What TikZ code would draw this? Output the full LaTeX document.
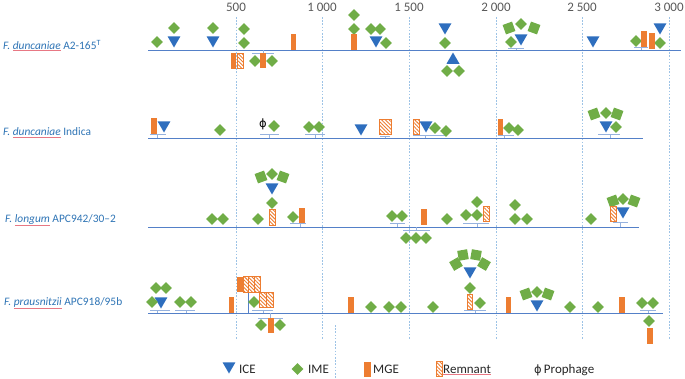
\documentclass[tikz,border=0pt]{standalone}
\usepackage{fontspec}
\setmainfont{Carlito}
\newfontfamily\phifont{DejaVu Sans}
\usetikzlibrary{shapes.geometric,patterns.meta}
\definecolor{iceblue}{RGB}{46,110,190}
\definecolor{imegreen}{RGB}{112,173,71}
\definecolor{mgeorange}{RGB}{237,125,49}
\definecolor{genomeblue}{RGB}{84,128,200}
\definecolor{kbblue}{RGB}{157,195,230}
\definecolor{linkblue}{RGB}{150,178,222}
\definecolor{strainblue}{RGB}{46,116,181}
\definecolor{axisgray}{RGB}{89,89,89}
\definecolor{spellred}{RGB}{232,120,132}
\newcommand\spl[1]{\colorlet{spltext}{.}{\color{spellred}\underline{\textcolor{spltext}{#1}}}}
\newcommand\phage{{\phifont\fontsize{11.5}{13}\selectfont ϕ}}

\begin{document}
\begin{tikzpicture}[x=1pt,y=-1pt,font=\fontsize{13}{15}\selectfont,
 ice/.style={regular polygon,regular polygon sides=3,shape border rotate=180,
  fill=iceblue,inner sep=0pt,minimum size=15pt},
 iceup/.style={ice,shape border rotate=0},
 ime/.style={diamond,fill=imegreen,inner sep=0pt,minimum width=12pt,minimum height=12pt},
 imesq/.style={rectangle,fill=imegreen,inner sep=0pt,minimum size=10pt},
 mge/.style={rectangle,fill=mgeorange,inner sep=0pt,minimum width=5.5pt,
  minimum height=15.5pt,anchor=south},
 rem/.style={rectangle,draw=mgeorange,line width=.6pt,inner sep=0pt,
  minimum width=5.5pt,minimum height=15.5pt,anchor=south,
  pattern={Lines[angle=-45,distance=2.6pt,line width=.9pt]},pattern color=mgeorange},
 genome/.style={draw=genomeblue,line width=1pt},
 kbline/.style={draw=kbblue,line width=.6pt,dash pattern=on 1.6pt off 1.6pt},
 link/.style={draw=linkblue,line width=.5pt},
 strain/.style={anchor=base west,text=strainblue,inner sep=0pt,
  font=\fontsize{11.4}{13}\selectfont},
 kb/.style={anchor=base,text=axisgray,inner sep=0pt},
 key/.style={anchor=base west,text=black!85,inner sep=0pt}]
 \useasboundingbox (0,0) rectangle (685,378);

 \foreach \x/\t [count=\i] in {236/500,322/1 000,409/1 500,496/2 000,582/2 500,669/3 000} {
   \draw[kbline] (\x,17) -- (\x,340);
   \node[kb] (kb\i) at (\x,11) {\t};
 }
 \draw[kbline] (335,325) -- (335,378);

 \draw[genome] (148,50) -- (681,50);
 \draw[genome] (148,138) -- (643,138);
 \draw[genome] (148,227) -- (639,227);
 \draw[genome] (148,313) -- (663,313);

 \node[strain] (sA) at (3,49) {\textit{F. \spl{duncaniae}} A2-165\textsuperscript{T}};
 \node[strain] (sB) at (3,135.5) {\textit{F. \spl{duncaniae}} Indica};
 \node[strain] (sC) at (5,222) {\textit{F. \spl{longum}} APC942/30–2};
 \node[strain] (sD) at (4,305) {\textit{F. \spl{prausnitzii}} APC918/95b};

 \foreach \a/\b/\m/\y/\g in {508/524/516/48/50,634/648/641/47/50,252/274/263/53/50,
   150/166/157/134/138,260/279/269/134/138,305/325/315/134/138,380/390/385/136/138,
   413/446/425/135/138,498/514/504/135/138,598/620/610/134/138,
   290/306/300/223/227,390/405/397/223/227,403/430/416/230/227,463/489/477/223/227,
   613/628/620/222/227,150/170/157/310/313,175/195/186/310/313,252/273/263/310/313,
   258/283/270/318/313,464/486/475/310/313,640/656/648/310/313}
   \draw[link] (\a,\y) -- (\b,\y) (\m,\y) -- (\m,\g);
 \draw[genome,line width=.5pt] (248,292) -- (248,313);

 \foreach \x/\y [count=\i] in {174/40,213/40,376/40,445/27,521/38,593/40,660/27,
   164/125,361/128,426/125,606/125,272/187,623/211,161/301,470/271,537/304}
   \node[ice] (ice\i) at (\x,\y) {};
 \node[iceup] (iceup) at (453,60) {};

 \foreach \x/\y [count=\i] in {157/42,174/28,213/28,244/29,244/43,354/15,354/29,
   371/29,380/29,386/43,445/43,511/42,521/24,636/41,660/43,255/61,272/61,447/71,459/71,
   220/130,274/126,309/127,319/127,435/128,446/131,509/128,518/130,606/113,616/127,
   212/219,223/219,258/219,272/174,272/203,293/217,392/216,402/216,406/238,416/238,
   426/238,447/219,466/215,477/202,477/215,515/205,515/219,527/219,591/219,623/199,
   156/288,166/288,152/302,180/302,191/302,254/302,261/325,280/325,371/307,389/307,
   401/307,433/307,470/288,480/303,537/292,570/307,598/307,642/303,653/303,649/321}
   \node[ime] (ime\i) at (\x,\y) {};

 \foreach \x/\y/\r [count=\i] in {509/28/20,534/28/-20,594/114/20,617/114/-20,
   261/177/20,283/177/-20,613/201/20,634/201/-20,456/264/30,463/255/10,
   476/255/-10,484/264/-30,526/294/20,548/294/-20}
   \node[imesq,rotate=\r] (sq\i) at (\x,\y) {};

 \foreach \x/\y [count=\i] in {293.5/50,354/50,644/47,652/49,233.5/69,263/68.5,
   154/134,500.5/135,302/223.5,424/225,231.5/313,240/292.5,351/313,508.5/313,
   622/313,271/333.5,650/344}
   \node[mge] (mge\i) at (\x,\y) {};

 \foreach \x/\y/\w [count=\i] in {240/69/6pt,385/135/12pt,416.5/135/6pt,
   272/225.5/6pt,486/222/6pt,613/222/6pt,245.8/292.5/5.7pt,251.5/292.5/5.7pt,
   257.2/292.5/5.7pt,262.5/308/7pt,269.5/308/7pt,470/310/5.5pt}
   \node[rem,minimum width=\w] (rem\i) at (\x,\y) {};

 \node[inner sep=0pt] (phi) at (263,124) {\phage};

 \node[ice] (kice) at (229,366) {};
 \node[key] (tice) at (239,373) {ICE};
 \node[ime] (kime) at (297.5,369) {};
 \node[key] (time) at (308,373) {IME};
 \node[mge,minimum width=7pt,minimum height=15pt] (kmge) at (367.5,377) {};
 \node[key] (tmge) at (373,373) {MGE};
 \node[rem,minimum width=6pt,minimum height=15pt] (krem) at (439.5,377) {};
 \node[key] (trem) at (443,373) {\spl{Remnant}};
 \node[key] (tphi) at (534,373) {\phage\,Prophage};
\end{tikzpicture}
\end{document}
